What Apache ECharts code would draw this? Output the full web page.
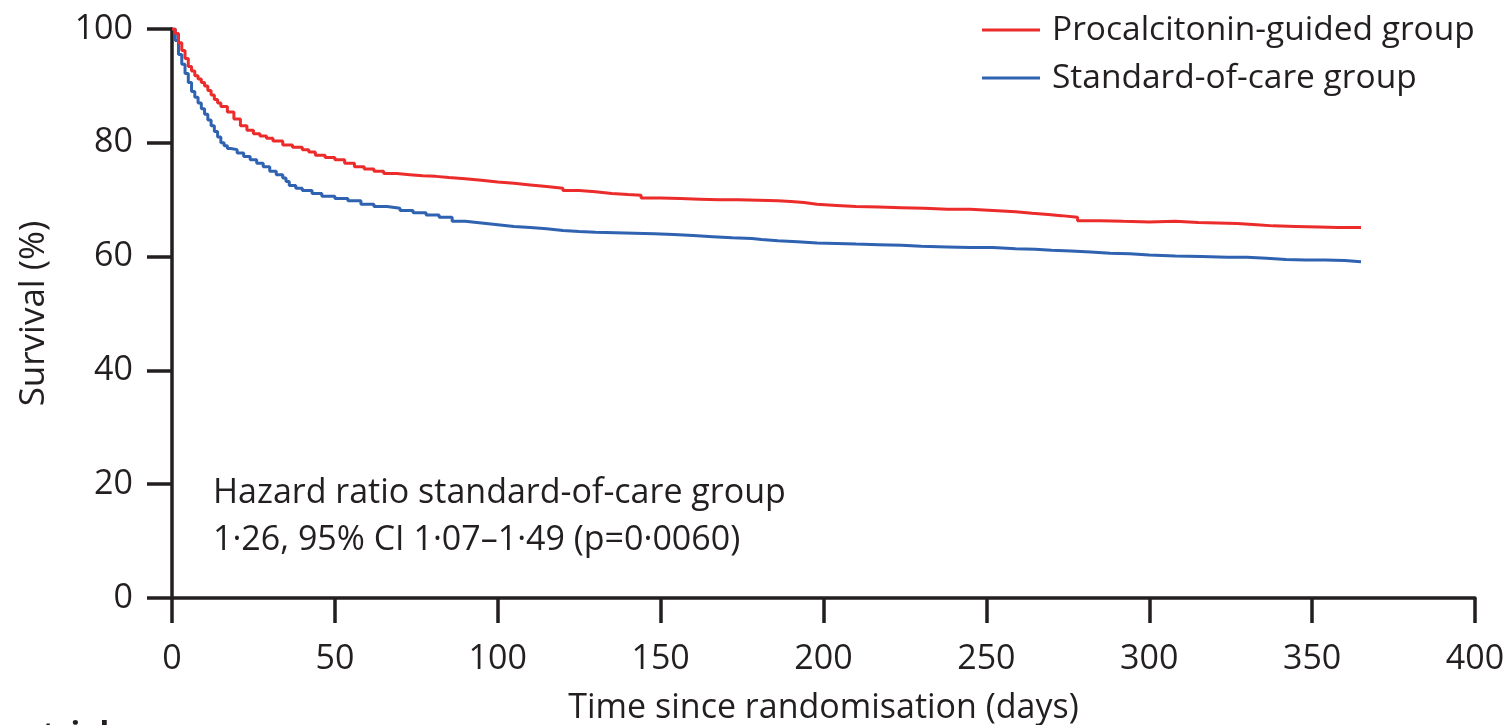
<!DOCTYPE html>
<html>
<head>
<meta charset="utf-8">
<title>Survival by group</title>
<script src="https://cdn.jsdelivr.net/npm/echarts@6/dist/echarts.min.js"></script>
<style>
  html, body { margin: 0; padding: 0; background: #ffffff; }
  #chart { width: 1510px; height: 725px; }
</style>
</head>
<body>
<div id="chart"></div>
<script>
// Kaplan-Meier survival estimates (%), by day since randomisation
const pctDays = [0,1,2,3,4,5,6,7,8,9,10,11,12,13,14,15,17,19,21,23,25,27,29,31,34,37,40,42,44,47,50,53,56,59,62,65,69,73,77,81,85,90,95,100,105,110,115,120,125,130,135,140,144,150,156,162,168,174,180,186,190,194,198,204,210,217,224,231,238,245,252,259,264,269,273,278,285,292,300,308,315,321,327,333,338,345,352,358,365];
const pctSurvival = [100,99.2,97.6,96.2,94.8,93.4,92.6,91.8,91.2,90.6,90.0,89.2,88.4,87.6,87.0,86.4,85.4,84.2,83.0,82.2,81.6,81.2,80.8,80.3,79.6,79.2,78.8,78.4,77.8,77.4,77.0,76.4,75.8,75.4,75.0,74.6,74.4,74.2,74.1,73.9,73.7,73.4,73.1,72.9,72.6,72.3,72.0,71.6,71.4,71.1,70.9,70.8,70.3,70.2,70.1,70.0,70.0,69.9,69.8,69.7,69.5,69.2,69.0,68.8,68.7,68.6,68.5,68.3,68.3,68.1,67.9,67.6,67.4,67.2,66.9,66.3,66.2,66.1,66.2,66.0,65.9,65.8,65.6,65.4,65.3,65.2,65.1,65.1,65.1];

const socDays = [0,1,2,3,4,5,6,7,8,9,10,11,12,13,14,15,16,17,18,20,22,24,26,28,30,32,34,35,36,38,40,43,46,50,54,58,62,66,70,74,78,82,86,90,95,100,105,110,115,120,125,130,136,142,148,154,160,166,172,178,181,186,192,198,204,210,217,224,230,238,245,252,259,265,270,276,282,288,294,300,308,316,324,330,336,342,348,354,360,365];
const socSurvival = [100,98.0,95.5,93.8,92.2,90.6,89.0,88.0,87.0,86.0,85.0,84.0,83.0,82.0,81.0,80.0,79.5,79.0,78.8,78.2,77.6,77.0,76.4,75.8,75.0,74.4,73.8,73.2,72.5,72.0,71.6,71.1,70.6,70.2,69.8,69.2,68.8,68.5,68.1,67.7,67.3,66.9,66.2,65.9,65.6,65.3,65.1,64.9,64.6,64.4,64.3,64.2,64.1,64.0,63.9,63.7,63.5,63.3,63.2,63.0,62.8,62.6,62.4,62.3,62.2,62.1,62.0,61.8,61.7,61.6,61.6,61.4,61.3,61.1,61.0,60.8,60.6,60.5,60.3,60.1,60.0,59.9,59.9,59.7,59.5,59.4,59.4,59.3,59.1,59.0];

const groupNames = ['Procalcitonin-guided group', 'Standard-of-care group'];
const xTicks = [0, 50, 100, 150, 200, 250, 300, 350, 400];
const yTicks = [0, 20, 40, 60, 80, 100];
const hazardText = ['Hazard ratio standard-of-care group', '1\u00B726, 95% CI 1\u00B707\u20131\u00B749 (p=0\u00B70060)'];

const FONT = '"Open Sans", "Noto Sans", sans-serif';
const INK = '#231f20';
const RED = '#ec2b2b';
const BLUE = '#2f62b0';

const pair = (xs, ys) => xs.map((x, i) => [x, ys[i]]);

const axisLine = { show: true, lineStyle: { color: INK, width: 3.5 } };
const axisTick = { show: true, length: 25, lineStyle: { color: INK, width: 3.5 } };

const chart = echarts.init(document.getElementById('chart'), null, { renderer: 'canvas' });
chart.setOption({
  animation: false,
  backgroundColor: '#ffffff',
  grid: { left: 172, right: 35, top: 29, bottom: 127, containLabel: false, outerBoundsMode: 'none' },
  legend: {
    orient: 'vertical',
    left: 977,
    top: 7,
    itemWidth: 58,
    itemHeight: 3,
    itemGap: 12,
    icon: 'rect',
    data: groupNames,
    textStyle: { fontFamily: FONT, fontSize: 33.5, color: INK, padding: [0, 0, 0, 7], lineHeight: 36 }
  },
  xAxis: {
    type: 'value',
    min: 0, max: 400, interval: 50,
    name: 'Time since randomisation (days)',
    nameLocation: 'middle',
    nameGap: 93,
    nameTextStyle: { fontFamily: FONT, fontSize: 34, color: INK },
    axisLine, axisTick,
    splitLine: { show: false },
    axisLabel: {
      margin: 44, fontFamily: FONT, fontSize: 34, color: INK,
      formatter: v => xTicks.includes(v) ? String(v) : ''
    }
  },
  yAxis: {
    type: 'value',
    min: 0, max: 100, interval: 20,
    name: 'Survival (%)',
    nameLocation: 'middle',
    nameGap: 120,
    nameRotate: 90,
    nameTextStyle: { fontFamily: FONT, fontSize: 35, color: INK },
    axisLine, axisTick,
    splitLine: { show: false },
    axisLabel: {
      margin: 39, fontFamily: FONT, fontSize: 34, color: INK,
      formatter: v => yTicks.includes(v) ? String(v) : ''
    }
  },
  graphic: [
    {
      type: 'text', left: 213, top: 470,
      style: { text: hazardText.join('\n'), fontFamily: FONT, fontSize: 34, lineHeight: 47, fill: INK }
    },
    {
      type: 'text', left: 42, top: 720,
      style: { text: 'trial', fontFamily: FONT, fontSize: 32, fontWeight: 'bold', fill: INK }
    }
  ],
  series: [
    {
      name: groupNames[0], type: 'line', step: 'end', symbol: 'none',
      lineStyle: { color: RED, width: 3 }, itemStyle: { color: RED },
      data: pair(pctDays, pctSurvival), z: 3
    },
    {
      name: groupNames[1], type: 'line', step: 'end', symbol: 'none',
      lineStyle: { color: BLUE, width: 3 }, itemStyle: { color: BLUE },
      data: pair(socDays, socSurvival), z: 2
    }
  ]
});
</script>
</body>
</html>
